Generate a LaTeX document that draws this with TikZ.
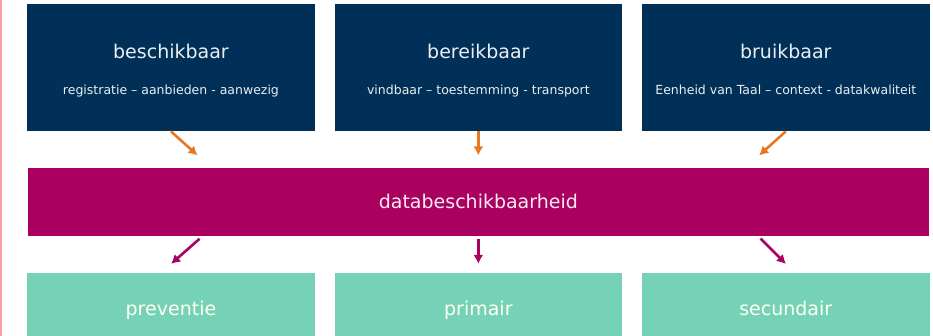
\documentclass[tikz,border=0pt]{standalone}
\usepackage{fontspec}
\setmainfont{DejaVu Sans}
\usepackage{xcolor}
\usetikzlibrary{positioning, arrows.meta}

\definecolor{navy}{RGB}{0,48,87}
\definecolor{plum}{RGB}{170,0,95}
\definecolor{mint}{RGB}{118,210,182}
\definecolor{amber}{RGB}{232,119,34}
\definecolor{rose}{RGB}{246,160,160}

\begin{document}
\begin{tikzpicture}[x=1pt, y=1pt, node distance=19.5pt,
    topbox/.style={fill=navy, text=white!92!navy, minimum width=287.5pt, minimum height=127pt, inner sep=0pt, align=center},
    midbox/.style={fill=plum, text=white!92!plum, minimum width=901.5pt, minimum height=68pt, inner sep=0pt, text height=18pt, text depth=4pt, font=\fontsize{19}{22}\selectfont},
    lowbox/.style={fill=mint, text=white!95!yellow, minimum width=287.5pt, minimum height=70pt, inner sep=0pt, text height=18pt, text depth=3pt, font=\fontsize{19}{22}\selectfont},
    oarrow/.style={draw=amber, line width=2.6pt, -{Latex[length=9pt, width=10pt]}},
    parrow/.style={draw=plum, line width=2.6pt, -{Latex[length=9pt, width=10pt]}}]

        \useasboundingbox (0,0) rectangle (933,-336);

        % rand links
        \fill [rose] (0,0) rectangle (2,-336);

        \node (beschikbaar) [topbox, anchor=north west] at (27,-4) {\fontsize{19}{22}\selectfont\rule{0pt}{22pt}beschikbaar\strut\\[18pt]\fontsize{12.5}{14}\selectfont registratie – aanbieden - aanwezig\strut};

        \node (bereikbaar) [topbox, right=of beschikbaar] {\fontsize{19}{22}\selectfont\rule{0pt}{22pt}bereikbaar\strut\\[18pt]\fontsize{12.5}{14}\selectfont vindbaar – toestemming - transport\strut};

        \node (bruikbaar) [topbox, right=of bereikbaar] {\fontsize{19}{22}\selectfont\rule{0pt}{22pt}bruikbaar\strut\\[18pt]\fontsize{12.5}{14}\selectfont Eenheid van Taal – context - datakwaliteit\strut};

        \node (data) [midbox, below=36pt of bereikbaar] {databeschikbaarheid};

        \node (primair) [lowbox, below=37pt of data] {primair};

        \node (preventie) [lowbox, left=of primair] {preventie};

        \node (secundair) [lowbox, right=of primair] {secundair};

        \draw [oarrow, shorten >=18pt] (beschikbaar.south) -- ([xshift=40pt]beschikbaar.south |- data.north);
        \draw [oarrow, shorten >=12pt] (bereikbaar.south) -- (data.north);
        \draw [oarrow, shorten >=18pt] (bruikbaar.south) -- ([xshift=-40pt]bruikbaar.south |- data.north);

        \draw [parrow, shorten <=4.5pt, shorten >=13.5pt] ([xshift=32pt]preventie.north |- data.south) -- ([xshift=-10pt]preventie.north);
        \draw [parrow, shorten <=3pt, shorten >=9pt] (data.south) -- (primair.north);
        \draw [parrow, shorten <=4pt, shorten >=12.5pt] ([xshift=-28pt]secundair.north |- data.south) -- ([xshift=9pt]secundair.north);

    \end{tikzpicture}
\end{document}
